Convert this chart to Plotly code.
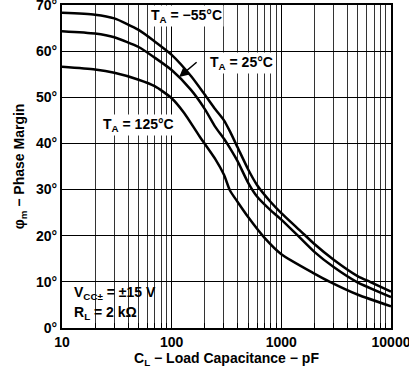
import plotly.graph_objects as go

# ---- data ----
cap_m55 = [10, 20, 30, 50, 70, 100, 150, 200, 250, 300, 340, 400, 500, 600, 800, 1000, 1500, 2000, 3000, 5000, 6430, 10000]
pm_m55 = [68.3, 67.9, 67.1, 64.6, 62.1, 59.2, 54.6, 50.6, 47.4, 45.0, 42.6, 39.1, 34.3, 31.0, 27.3, 24.9, 21.0, 18.2, 14.8, 11.2, 10.0, 7.9]

cap_25 = [10, 20, 30, 50, 70, 100, 150, 200, 250, 300, 350, 400, 500, 600, 800, 1000, 1416, 2000, 3000, 4855, 10000]
pm_25 = [64.3, 63.8, 63.0, 60.9, 58.6, 55.9, 51.6, 47.5, 43.6, 41.0, 38.5, 36.1, 31.4, 28.5, 25.5, 23.5, 20.0, 16.5, 13.2, 10.0, 6.7]

cap_125 = [10, 20, 30, 50, 70, 100, 130, 180, 250, 300, 340, 400, 500, 700, 1000, 2000, 2773, 5000, 10000]
pm_125 = [56.6, 56.0, 55.3, 53.8, 52.4, 49.8, 46.6, 41.5, 36.6, 33.2, 29.8, 27.3, 24.0, 19.6, 16.0, 11.8, 10.0, 7.2, 4.7]

x_tickvals = [10, 100, 1000, 10000]
x_ticktext = ["10", "100", "1000", "10000"]
x_minor = [m * d for d in (10, 100, 1000) for m in range(2, 10)]
y_tickvals = [0, 10, 20, 30, 40, 50, 60, 70]
y_ticktext = ["0°", "10°", "20°", "30°", "40°", "50°", "60°", "70°"]

FONT = "Liberation Sans, Arial, sans-serif"
bold = dict(family=FONT, size=14, color="black", weight="bold")

fig = go.Figure()
for cx, py in ((cap_m55, pm_m55), (cap_25, pm_25), (cap_125, pm_125)):
    fig.add_trace(go.Scatter(x=cx, y=py, mode="lines",
                             line=dict(color="black", width=2.5, shape="spline", smoothing=0.6),
                             showlegend=False, hoverinfo="skip"))

fig.update_layout(
    width=409, height=371,
    margin=dict(l=62, r=18, t=5, b=43, autoexpand=False),
    paper_bgcolor="white", plot_bgcolor="white",
    font=bold,
    showlegend=False,
)

fig.update_xaxes(
    type="log", range=[1, 4], automargin=False,
    tickvals=x_tickvals, ticktext=x_ticktext,
    showgrid=True, gridcolor="black", gridwidth=1,
    ticks="inside", ticklen=5, tickcolor="black",
    minor=dict(tickvals=x_minor, showgrid=True, gridcolor="#333333", gridwidth=1,
               ticks="inside", ticklen=5, tickcolor="black"),
    showline=True, mirror=True, linecolor="black", linewidth=2,
    tickfont=bold, ticklabeloverflow="allow",
    title=dict(text="C<sub>L</sub> − Load Capacitance − pF", font=bold, standoff=2),
    zeroline=False,
)
fig.update_yaxes(
    range=[0, 70], automargin=False,
    tickvals=y_tickvals, ticktext=y_ticktext,
    showgrid=True, gridcolor="black", gridwidth=1,
    ticks="",
    showline=True, mirror=True, linecolor="black", linewidth=2,
    tickfont=bold, ticklabeloverflow="allow",
    title=dict(text="φ<sub>m</sub> − Phase Margin", font=bold, standoff=8),
    zeroline=False,
)

# white box behind the conditions text (above the grid, below ticks)
fig.add_shape(type="rect", xref="paper", yref="paper", x0=0.003, x1=0.318, y0=0.004, y1=0.139,
              fillcolor="white", line=dict(width=0), layer="between")

fig.add_annotation(xref="paper", yref="paper", x=0.030, y=0.1075, xanchor="left", yanchor="middle",
                   text="V<sub>CC±</sub> = ±15 V", showarrow=False, font=bold)
fig.add_annotation(xref="paper", yref="paper", x=0.030, y=0.045, xanchor="left", yanchor="middle",
                   text="R<sub>L</sub> = 2 kΩ", showarrow=False, font=bold)

fig.add_annotation(xref="paper", yref="paper", x=0.377, y=0.966, xanchor="center", yanchor="middle",
                   text="T<sub>A</sub> = −55°C", showarrow=False, font=bold, bgcolor="white", borderpad=1)
fig.add_annotation(xref="paper", yref="paper", x=0.443, y=0.820, xanchor="left", yanchor="middle",
                   text="T<sub>A</sub> = 25°C", showarrow=False, font=bold, bgcolor="white", borderpad=1)
fig.add_annotation(xref="paper", yref="paper", x=0.234, y=0.628, xanchor="center", yanchor="middle",
                   text="T<sub>A</sub> = 125°C", showarrow=False, font=bold, bgcolor="white", borderpad=1)

# arrow pointing to the 25 °C curve
fig.add_annotation(xref="paper", yref="paper", x=0.356, y=0.777, ax=19, ay=-16,
                   text="", showarrow=True, arrowhead=2, arrowsize=1.3, arrowwidth=1.5,
                   arrowcolor="black", standoff=0)

fig.write_html("out.html", config={"displayModeBar": False, "staticPlot": True},
               post_script="document.body.style.margin='0';document.body.style.overflow='hidden';")
